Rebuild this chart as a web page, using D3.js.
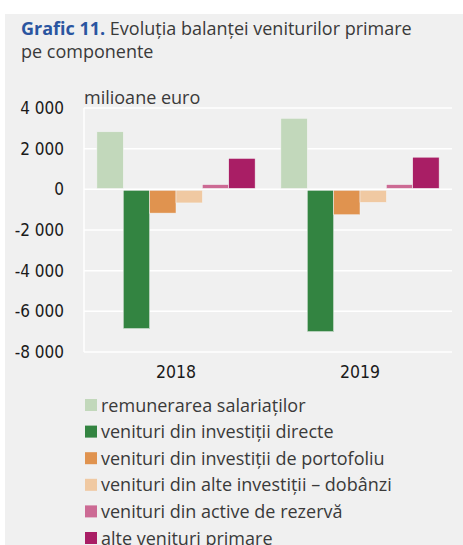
<!DOCTYPE html>
<html>
<head>
<meta charset="utf-8">
<script src="https://cdn.jsdelivr.net/npm/d3@7"></script>
<style>
  body { margin: 0; background: #fff; }
  svg { display: block; }
</style>
</head>
<body>
<script>
// data (milioane euro)
const years = ["2018", "2019"];
const components = [
  "remunerarea salariaților",
  "venituri din investiții directe",
  "venituri din investiții de portofoliu",
  "venituri din alte investiții – dobânzi",
  "venituri din active de rezervă",
  "alte venituri primare"
];
const values2018 = [2830, -6800, -1120, -620, 230, 1520];
const values2019 = [3490, -6950, -1200, -590, 230, 1580];
const yTicks = [-8000, -6000, -4000, -2000, 0, 2000, 4000];
const colors = ["#c2d8bb", "#338441", "#e0934f", "#f0c9a2", "#cc6a94", "#a91e65"];

const w = 463, h = 545;
const padLeft = 84, padRight = 452, padTop = 108, padBottom = 352;

const svg = d3.select("body").append("svg")
  .attr("width", w)
  .attr("height", h);

svg.append("rect")
  .attr("x", 5).attr("y", 14)
  .attr("width", w - 5).attr("height", h - 14)
  .attr("fill", "#f0f0f0");

// title
const title = svg.append("text")
  .attr("x", 21).attr("y", 35)
  .style("font-family", "'Open Sans', sans-serif")
  .style("font-size", "18px")
  .attr("fill", "#3a3a3a");
title.append("tspan").text("Grafic 11. ").attr("font-weight", "bold").attr("fill", "#2a55a0");
title.append("tspan").text("Evoluția balanței veniturilor primare");
svg.append("text")
  .attr("x", 21).attr("y", 57.5)
  .style("font-family", "'Open Sans', sans-serif")
  .style("font-size", "18px")
  .attr("fill", "#3a3a3a")
  .text("pe componente");

svg.append("text")
  .attr("x", 84).attr("y", 104)
  .style("font-family", "'Open Sans', sans-serif")
  .style("font-size", "18px")
  .attr("fill", "#3a3a3a")
  .text("milioane euro");

const yScale = d3.scaleLinear()
  .domain([-8000, 4000])
  .range([padBottom, padTop]);

const xScale = d3.scaleBand()
  .domain(years)
  .range([padLeft, padRight])
  .paddingInner(0.14)
  .paddingOuter(0.07);

const xInner = d3.scaleBand()
  .domain(components)
  .range([0, xScale.bandwidth()]);

// gridlines
svg.append("g")
  .selectAll("line")
  .data(yTicks)
  .enter()
  .append("line")
  .attr("x1", padLeft).attr("x2", padRight)
  .attr("y1", d => yScale(d)).attr("y2", d => yScale(d))
  .attr("stroke", "#fff")
  .attr("stroke-width", 1.5);
svg.append("line")
  .attr("x1", padLeft).attr("x2", padLeft)
  .attr("y1", padTop).attr("y2", padBottom)
  .attr("stroke", "#fff")
  .attr("stroke-width", 1.5);

// y axis labels
const yAxis = d3.axisLeft(yScale)
  .tickValues(yTicks)
  .tickSize(0)
  .tickPadding(20)
  .tickFormat(d => d3.format(",")(d).replace(/,/g, " ").replace("−", "-"));
const gy = svg.append("g")
  .attr("transform", "translate(" + padLeft + ",0)")
  .call(yAxis);
gy.select(".domain").remove();
gy.selectAll("text")
  .style("font-family", "'Liberation Sans Narrow', 'DejaVu Sans Condensed', sans-serif")
  .style("font-size", "17px")
  .attr("fill", "#1a1a1a");

// x axis labels
const xAxis = d3.axisBottom(xScale).tickSize(0).tickPadding(14);
const gx = svg.append("g")
  .attr("transform", "translate(0," + padBottom + ")")
  .call(xAxis);
gx.select(".domain").remove();
gx.selectAll("text")
  .style("font-family", "'Liberation Sans Narrow', 'DejaVu Sans Condensed', sans-serif")
  .style("font-size", "17.5px")
  .attr("fill", "#1a1a1a");

// bars
const dataset = [values2018, values2019];
const groups = svg.append("g")
  .selectAll("g")
  .data(years)
  .enter()
  .append("g")
  .attr("transform", d => "translate(" + xScale(d) + ",0)");

groups.selectAll("rect")
  .data((d, i) => components.map((c, j) => ({ c: c, v: dataset[i][j], k: j })))
  .enter()
  .append("rect")
  .attr("x", d => xInner(d.c))
  .attr("y", d => d.v >= 0 ? yScale(d.v) : yScale(0) + 1)
  .attr("width", xInner.bandwidth())
  .attr("height", d => Math.abs(yScale(d.v) - yScale(0)) - (d.v >= 0 ? 1 : 0))
  .attr("fill", d => colors[d.k])
  .attr("stroke", "#f4f4f4")
  .attr("stroke-width", 0.5);

// legend
const legend = svg.append("g")
  .selectAll("g")
  .data(components)
  .enter()
  .append("g")
  .attr("transform", (d, i) => "translate(85," + (405 + i * 26.6) + ")");
legend.append("rect")
  .attr("x", 0).attr("y", -6)
  .attr("width", 12).attr("height", 12)
  .attr("fill", (d, i) => colors[i]);
legend.append("text")
  .attr("x", 16).attr("y", 6.5)
  .style("font-family", "'Open Sans', sans-serif")
  .style("font-size", "18px")
  .attr("fill", "#3a3a3a")
  .text(d => d);
</script>
</body>
</html>
